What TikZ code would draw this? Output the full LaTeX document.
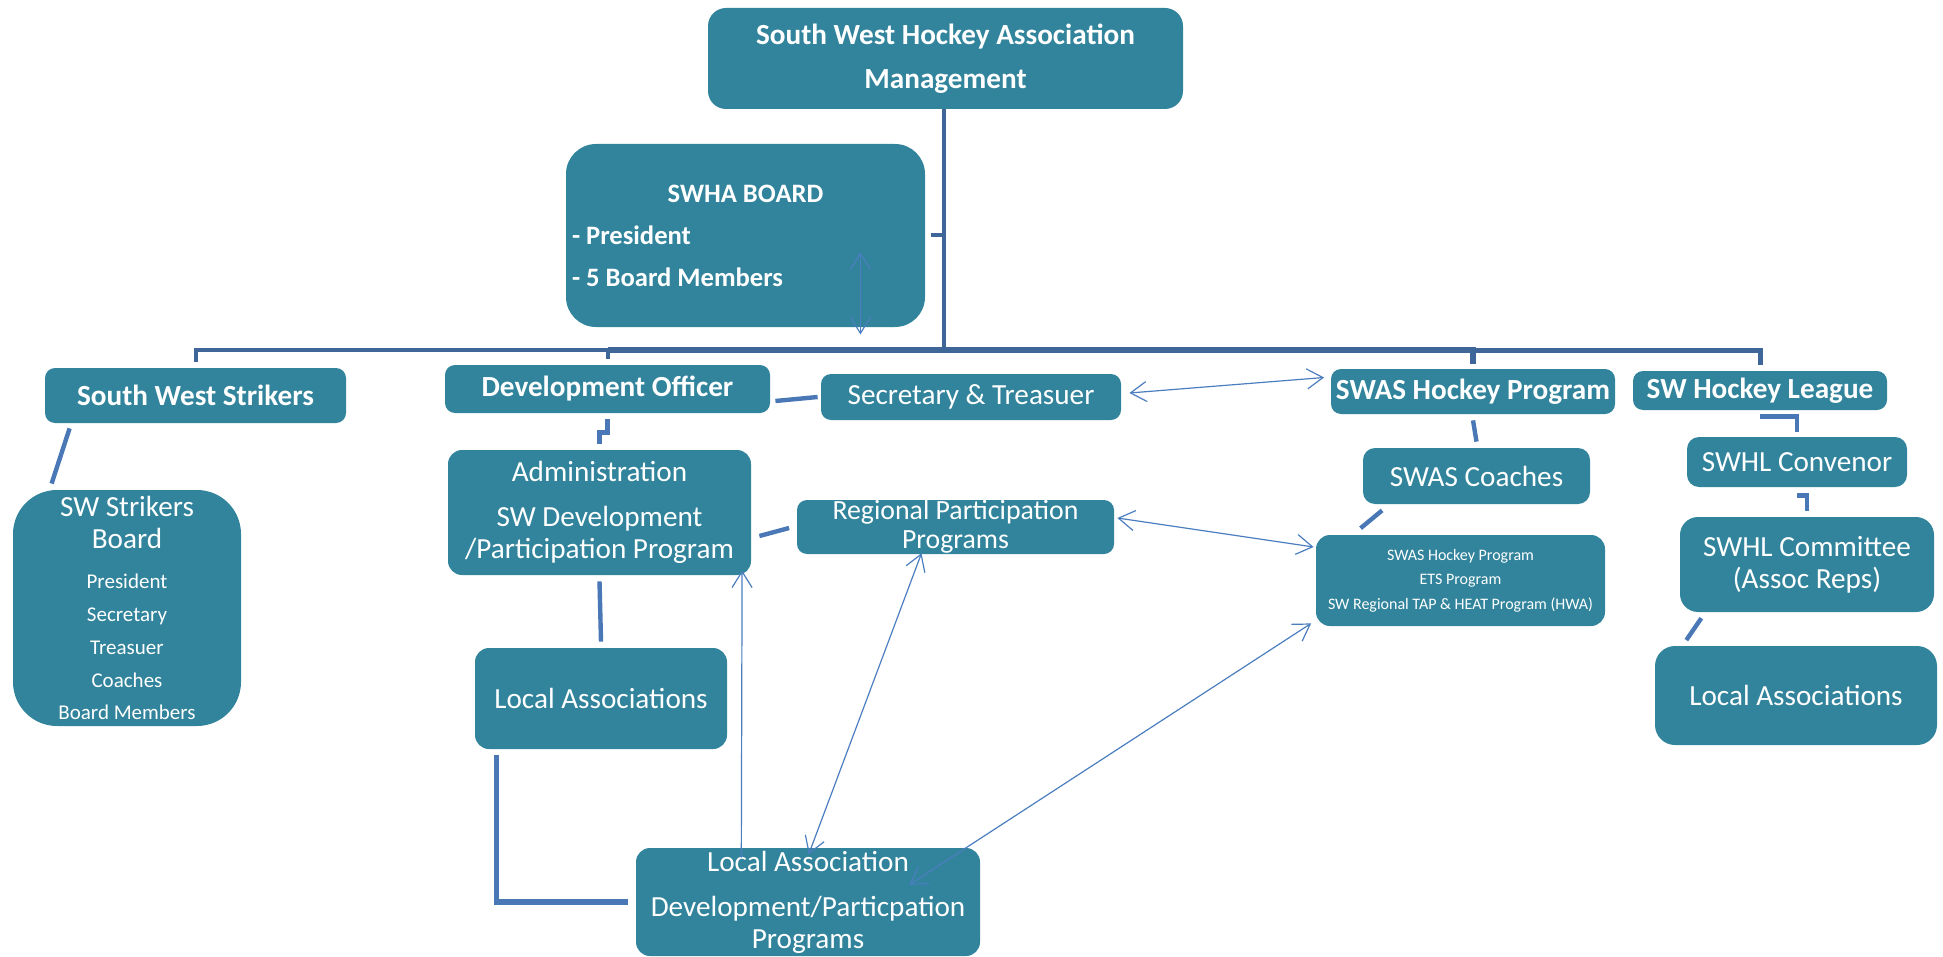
\documentclass[tikz,border=0pt]{standalone}
\usepackage{fontspec}
\setmainfont{Carlito}
\usetikzlibrary{arrows.meta,calc}

\definecolor{swteal}{HTML}{31849B}
\definecolor{swbus}{HTML}{3E6698}
\definecolor{swlink}{HTML}{4A78B6}
\definecolor{swarrow}{HTML}{4A7EBF}

\begin{document}
\begin{tikzpicture}[
  x=0.5pt, y=-0.5pt,
  >={Straight Barb[length=8pt,width=10pt]},
  box/.style={rectangle, fill=swteal, text=white, rounded corners=7pt, inner sep=1pt, align=center, font=\fontsize{14.6}{16}\selectfont},
  head/.style={box, font=\bfseries\fontsize{14.6}{22}\selectfont},
  bus/.style={draw=swbus, line width=2.2pt},
  link/.style={draw=swlink, line width=2.2pt},
  line/.style={draw=swarrow, line width=0.6pt, <->}
]
\useasboundingbox (0,0) rectangle (1943,957);

% top of the tree
\node [head, minimum width=237.5pt, minimum height=50.5pt, rounded corners=9pt] (mgmt) at (945.5,58.5) {South West Hockey Association\\Management};
\node [box, minimum width=179.5pt, minimum height=91.5pt, rounded corners=15pt, text width=173.5pt, align=flush left, font=\bfseries\fontsize{13.3}{21}\selectfont] (board) at (745.5,235.5) {\centering SWHA BOARD\par\raggedright - President\\- 5 Board Members};

% second row
\node [head, minimum width=150.5pt, minimum height=27.5pt, rounded corners=5pt] (strikers) at (195.5,395.5) {South West Strikers};
\node [head, minimum width=162.5pt, minimum height=24pt, rounded corners=5pt] (devoff) at (607.5,389) {Development Officer};
\node [box, minimum width=150pt, minimum height=23pt, rounded corners=5pt] (sectr) at (971,397) {Secretary \& Treasuer};
\node [head, minimum width=142pt, minimum height=22.5pt, rounded corners=5pt] (swasprog) at (1473,391.5) {SWAS Hockey Program};
\node [head, minimum width=127pt, minimum height=19.5pt, rounded corners=5pt] (league) at (1760,390.5) {SW Hockey League};

% strikers side
\node [box, minimum width=114pt, minimum height=118pt, rounded corners=22pt, text width=110pt, align=flush center] (strboard) at (127,608) {SW Strikers\\Board\par\vspace{3.6pt}\fontsize{10.5}{16.4}\selectfont President\\Secretary\\Treasuer\\Coaches\\Board Members};

% development side
\node [box, minimum width=151.5pt, minimum height=62.5pt] (admin) at (599.5,512.5) {Administration\\[6.5pt]SW Development\\/Participation Program};
\node [box, minimum width=158.5pt, minimum height=27pt, inner sep=0pt, rounded corners=5pt, font=\fontsize{13.9}{14.6}\selectfont] (regional) at (955.5,527) {Regional Participation\\Programs};
\node [box, minimum width=126pt, minimum height=50.5pt] (localL) at (601,698.5) {Local Associations};
\node [box, minimum width=172pt, minimum height=54pt] (ladp) at (808,902) {Local Association\\[6.5pt]Development/Particpation\\Programs};

% SWAS side
\node [box, minimum width=113.5pt, minimum height=28pt, rounded corners=6pt] (coaches) at (1476.5,476) {SWAS Coaches};
\node [box, minimum width=144.5pt, minimum height=45.5pt, font=\fontsize{8}{12.25}\selectfont] (swaslist) at (1460.5,580.5) {SWAS Hockey Program\\ETS Program\\SW Regional TAP \& HEAT Program (HWA)};

% league side
\node [box, minimum width=110pt, minimum height=25pt, rounded corners=6pt] (convenor) at (1797,462) {SWHL Convenor};
\node [box, minimum width=127pt, minimum height=47.5pt, rounded corners=9pt] (committee) at (1807,564.5) {SWHL Committee\\(Assoc Reps)};
\node [box, minimum width=141pt, minimum height=49.5pt, rounded corners=10pt] (localR) at (1796,695.5) {Local Associations};

% tree lines
\coordinate (hub) at (944,350);
\path [bus] (mgmt.south -| hub) -- (hub);
\path [bus, line width=2pt] ([xshift=3pt]board.east) -- (board.east -| hub);
\path [bus, line width=2pt] (devoff.north |- hub) -| ([yshift=3pt]strikers.north);
\path [bus, line width=3.4pt] (hub) -- (devoff.north |- hub);
\path [bus, line width=2pt] (devoff.north |- hub) -- ([yshift=3pt]devoff.north);
\path [bus, line width=3pt] (hub) -| ([yshift=2.5pt]swasprog.north);
\path [bus, line width=2.5pt] (swasprog.north |- hub) -| ([yshift=3pt]league.north);

% short links
\path [link] ([xshift=2.5pt,yshift=-6pt]devoff.east) -- ([xshift=-1.5pt]sectr.west);
\path [link] ([xshift=12.5pt,yshift=-2.5pt]strikers.south west) -- ([xshift=19.5pt,yshift=3pt]strboard.north west);
\path [link] ([yshift=-3pt]devoff.south) -- ++(0,13) -| ([yshift=3pt]admin.north);
\path [link] ([xshift=4pt,yshift=-11.75pt]admin.east) -- ([xshift=-3.75pt,yshift=-0.5pt]regional.west);
\path [link] ([yshift=-3pt]admin.south) -- ([yshift=3pt]localL.north);
\path [link, line width=2.6pt] ([xshift=11pt,yshift=-3pt]localL.south west) |- ([xshift=-4pt]ladp.west);
\path [link] ([yshift=-3pt]swasprog.south) -- ([yshift=3pt]coaches.north);
\path [link] ([xshift=9.75pt,yshift=-3pt]coaches.south west) -- ([xshift=22.5pt,yshift=3.2pt]swaslist.north west);
\path [link] ([yshift=-3pt]league.south) -| ([yshift=2.5pt]convenor.north);
\path [link] ([yshift=-4pt]convenor.south) -| ([yshift=3pt]committee.north);
\path [link] ([xshift=10.85pt,yshift=-2.9pt]committee.south west) -- ([xshift=15.85pt,yshift=2.75pt]localR.north west);

% arrows
\path [line] ($(board.south east)+(-65,-75)$) -- ($(board.south east)+(-65,7)$);
\path [line] ($(sectr.east)+(8,-4)$) -- ($(swasprog.west)+(-6.5,-14)$);
\path [line, ->] ($(ladp.north west)+(105.7,10)$) -- ($(admin.south east)+(-9.3,-5)$);
\path [line] ($(regional.south)+(-34,-1.2)$) -- ($(ladp.north)+(0.7,6.7)$);
\path [line] ($(regional.east)+(3,-9)$) -- ($(swaslist.west)+(-2,-33.5)$);
\path [line] ($(ladp.north east)+(-71,37)$) -- ($(swaslist.south west)+(-4.5,-3)$);

\end{tikzpicture}
\end{document}
